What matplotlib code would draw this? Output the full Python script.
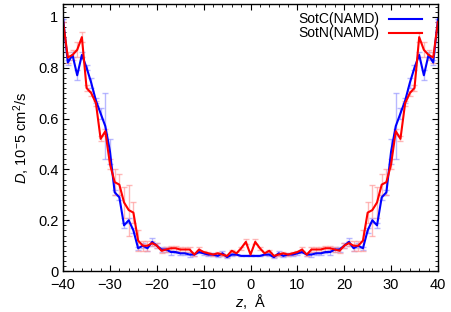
import numpy as np
import matplotlib
matplotlib.use("Agg")
import matplotlib.pyplot as plt
from matplotlib.ticker import MultipleLocator

plt.rcParams["font.family"] = ["Liberation Sans", "DejaVu Sans"]
plt.rcParams["mathtext.fontset"] = "custom"
plt.rcParams["mathtext.rm"] = "Liberation Sans"
plt.rcParams["mathtext.it"] = "Liberation Sans:italic"

z = list(range(-40, 41))

sotc = [0.99, 0.82, 0.85, 0.77, 0.85, 0.80, 0.74, 0.67, 0.62, 0.57,
        0.47, 0.31, 0.29, 0.18, 0.20, 0.16, 0.09, 0.10, 0.09, 0.115,
        0.10, 0.085, 0.085, 0.075, 0.075, 0.07, 0.07, 0.065, 0.065, 0.075,
        0.07, 0.065, 0.065, 0.06, 0.07, 0.055, 0.065, 0.065, 0.06, 0.06,
        0.06,
        0.06, 0.06, 0.065, 0.065, 0.055, 0.07, 0.06, 0.065, 0.065, 0.07,
        0.075, 0.065, 0.065, 0.07, 0.07, 0.075, 0.075, 0.085, 0.085, 0.10,
        0.115, 0.09, 0.10, 0.09, 0.16, 0.20, 0.18, 0.29, 0.31, 0.47,
        0.57, 0.62, 0.67, 0.74, 0.80, 0.85, 0.77, 0.85, 0.82, 0.99]

sotc_err = [0, 0.01, 0.01, 0.02, 0.01, 0.01, 0.02, 0.01, 0.02, 0.13,
            0.05, 0.01, 0.01, 0.01, 0.01, 0.01, 0.005, 0.01, 0.01, 0.015,
            0.01, 0.01, 0.01, 0.01, 0.005, 0.005, 0.005, 0.01, 0.005, 0.005,
            0.005, 0.005, 0.005, 0.005, 0.01, 0.005, 0.005, 0, 0, 0,
            0,
            0, 0, 0, 0.005, 0.005, 0.01, 0.005, 0.005, 0.005, 0.005,
            0.005, 0.005, 0.01, 0.005, 0.005, 0.005, 0.01, 0.01, 0.01, 0.01,
            0.015, 0.01, 0.01, 0.005, 0.01, 0.01, 0.01, 0.01, 0.01, 0.05,
            0.13, 0.02, 0.01, 0.02, 0.01, 0.01, 0.02, 0.01, 0.01, 0]

sotn = [0.98, 0.84, 0.85, 0.87, 0.92, 0.72, 0.70, 0.66, 0.52, 0.55,
        0.42, 0.35, 0.34, 0.27, 0.24, 0.23, 0.12, 0.10, 0.10, 0.11,
        0.10, 0.08, 0.085, 0.09, 0.09, 0.085, 0.085, 0.085, 0.065, 0.085,
        0.075, 0.07, 0.065, 0.07, 0.065, 0.06, 0.08, 0.07, 0.09, 0.115,
        0.065,
        0.115, 0.09, 0.07, 0.08, 0.06, 0.065, 0.07, 0.065, 0.07, 0.075,
        0.085, 0.065, 0.085, 0.085, 0.085, 0.09, 0.09, 0.085, 0.08, 0.10,
        0.11, 0.10, 0.10, 0.12, 0.23, 0.24, 0.27, 0.34, 0.35, 0.42,
        0.55, 0.52, 0.66, 0.70, 0.72, 0.92, 0.87, 0.85, 0.84, 0.98]

sotn_err = [0, 0.02, 0.02, 0.03, 0.02, 0.01, 0.01, 0.01, 0.01, 0.01,
            0.02, 0.05, 0.04, 0.06, 0.10, 0.04, 0.04, 0.02, 0.02, 0.01,
            0.01, 0.01, 0.01, 0.01, 0.01, 0.01, 0.01, 0.01, 0.005, 0.01,
            0.005, 0.005, 0.005, 0.005, 0.005, 0.005, 0.005, 0.005, 0.005, 0.01,
            0,
            0.01, 0.005, 0.005, 0.005, 0.005, 0.005, 0.005, 0.005, 0.005, 0.005,
            0.01, 0.005, 0.01, 0.01, 0.01, 0.01, 0.01, 0.01, 0.01, 0.01,
            0.01, 0.02, 0.02, 0.04, 0.04, 0.10, 0.06, 0.04, 0.05, 0.02,
            0.01, 0.01, 0.01, 0.01, 0.01, 0.02, 0.03, 0.02, 0.02, 0]

x_ticks = [-40, -30, -20, -10, 0, 10, 20, 30, 40]
x_labels = ["\u221240", "\u221230", "\u221220", "\u221210", "0", "10", "20", "30", "40"]
y_ticks = [0, 0.2, 0.4, 0.6, 0.8, 1.0]
y_labels = ["0", "0.2", "0.4", "0.6", "0.8", "1"]

fig = plt.figure(figsize=(4.51, 3.12), dpi=100)
ax = fig.add_axes([0.14, 0.131, 0.831, 0.856])

ax.errorbar(z, sotc, yerr=sotc_err, fmt="none", ecolor="#9a9aff",
            elinewidth=1, capsize=2, capthick=1, alpha=0.7)
ax.errorbar(z, sotn, yerr=sotn_err, fmt="none", ecolor="#ff9a9a",
            elinewidth=1, capsize=2, capthick=1, alpha=0.7)
ax.plot(z, sotc, color="#0000ff", lw=1.5, label="SotC(NAMD)")
ax.plot(z, sotn, color="#ff0000", lw=1.5, label="SotN(NAMD)")

ax.set_xticks(x_ticks)
ax.set_xticklabels(x_labels)
ax.set_yticks(y_ticks)
ax.set_yticklabels(y_labels)
ax.xaxis.set_minor_locator(MultipleLocator(2))
ax.yaxis.set_minor_locator(MultipleLocator(0.02))
ax.set_xlim(-40, 40)
ax.set_ylim(0, 1.05)
ax.tick_params(which="both", direction="in", top=True, right=True, labelsize=10.5)
ax.tick_params(axis="x", which="major", pad=5)
ax.tick_params(which="major", length=4)
ax.tick_params(which="minor", length=2)
for s in ax.spines.values():
    s.set_linewidth(1.0)

ax.set_xlabel("$z$,  Å", fontsize=10.5, labelpad=0)
ax.set_ylabel("$D$, 10$^{-}$5 cm$^{2}$/s", fontsize=10.5, labelpad=4)

ax.legend(loc="upper right", bbox_to_anchor=(0.981, 1.0), frameon=False,
          markerfirst=False, fontsize=10, handlelength=2.4, handletextpad=0.7,
          borderaxespad=0.3, borderpad=0.3, labelspacing=0.0)

fig.savefig("out.png", dpi=100)
